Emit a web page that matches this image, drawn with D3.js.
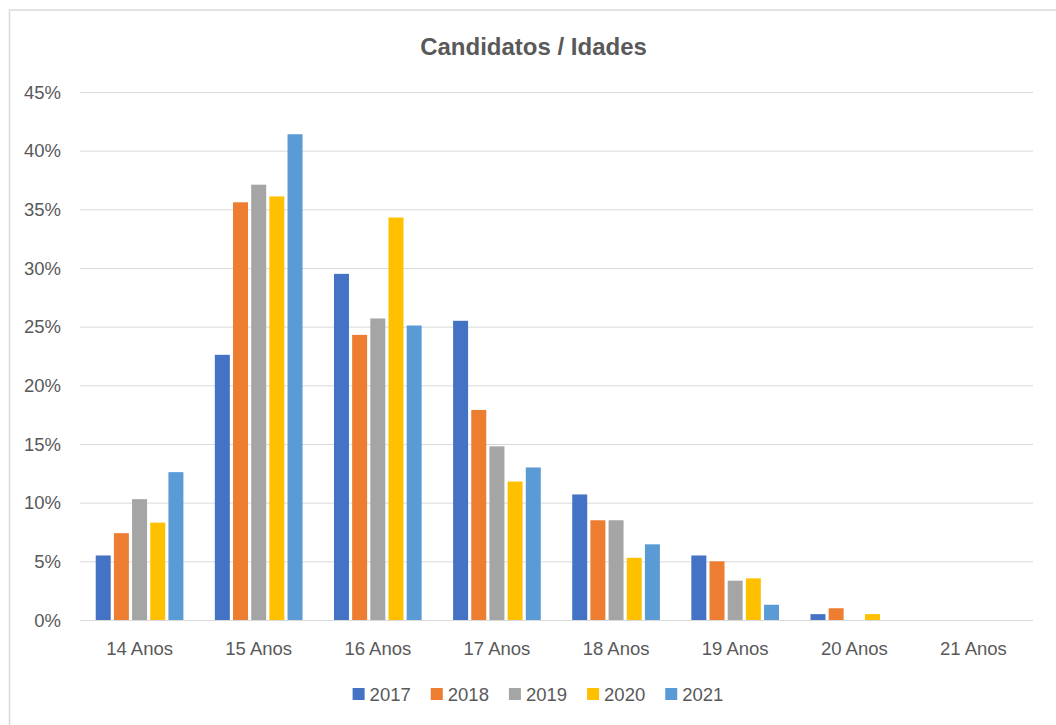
<!DOCTYPE html>
<head>
<meta charset="utf-8">
<style>
body { margin: 0; background: #fff; }
text { font-family: "Liberation Sans", Arial, sans-serif; fill: #595959; }
</style>
</head>
<body>

<!-- load the d3.js library -->
<script src="https://d3js.org/d3.v7.min.js"></script>
<script>

// the data (percent)
var categories = ["14 Anos", "15 Anos", "16 Anos", "17 Anos", "18 Anos", "19 Anos", "20 Anos", "21 Anos"];
var years = ["2017", "2018", "2019", "2020", "2021"];
var v2017 = [5.5, 22.6, 29.5, 25.5, 10.7, 5.5, 0.5, 0];
var v2018 = [7.4, 35.6, 24.3, 17.9, 8.5, 5.0, 1.0, 0];
var v2019 = [10.3, 37.1, 25.7, 14.8, 8.5, 3.35, 0, 0];
var v2020 = [8.3, 36.1, 34.3, 11.8, 5.3, 3.55, 0.5, 0];
var v2021 = [12.6, 41.4, 25.1, 13.0, 6.45, 1.3, 0, 0];
var yTicks = [0, 5, 10, 15, 20, 25, 30, 35, 40, 45];
var title = "Candidatos / Idades";

var series = [v2017, v2018, v2019, v2020, v2021];
var colors = ["#4472C4", "#ED7D31", "#A5A5A5", "#FFC000", "#5B9BD5"];

// plot area
var width = 1056, height = 725;
var plot = {left: 80, right: 1033, top: 92, bottom: 620};

var svg = d3.select("body").append("svg")
    .attr("width", width)
    .attr("height", height);

// chart border
svg.append("rect")
    .attr("x", 9.5).attr("y", 10)
    .attr("width", 1080).attr("height", 760)
    .style("fill", "#fff")
    .style("stroke", "#D9D9D9")
    .style("stroke-width", 1.5);

// scales
var x0 = d3.scaleBand().domain(categories)
    .range([plot.left, plot.right])
    .paddingInner(0.264).paddingOuter(0.132);
var x1 = d3.scaleBand().domain(years)
    .range([0, x0.bandwidth()])
    .paddingInner(0.175);
var y = d3.scaleLinear().domain([0, 45]).range([plot.bottom, plot.top]);

// gridlines
svg.append("g").selectAll("line")
    .data(yTicks).enter().append("line")
    .attr("x1", plot.left).attr("x2", plot.right)
    .attr("y1", function(d) { return y(d) + 0.5; })
    .attr("y2", function(d) { return y(d) + 0.5; })
    .style("stroke", "#D9D9D9")
    .style("stroke-width", 1);

// y labels
svg.append("g").selectAll("text")
    .data(yTicks).enter().append("text")
    .attr("x", 61)
    .attr("y", function(d) { return y(d); })
    .attr("dy", "0.36em")
    .attr("text-anchor", "end")
    .style("font-size", "18.5px")
    .text(function(d) { return d + "%"; });

// bars
var groups = svg.append("g").selectAll("g")
    .data(years).enter().append("g")
    .style("fill", function(d, i) { return colors[i]; });

groups.selectAll("rect")
    .data(function(d, i) {
        return series[i].map(function(v, j) { return {year: d, cat: categories[j], value: v}; });
    })
    .enter().append("rect")
    .attr("x", function(d) { return x0(d.cat) + x1(d.year); })
    .attr("y", function(d) { return y(d.value); })
    .attr("width", x1.bandwidth())
    .attr("height", function(d) { return y(0) - y(d.value); });

// x labels
svg.append("g").selectAll("text")
    .data(categories).enter().append("text")
    .attr("x", function(d) { return x0(d) + x0.bandwidth() / 2; })
    .attr("y", 655)
    .attr("text-anchor", "middle")
    .style("font-size", "18.5px")
    .text(function(d) { return d; });

// title
svg.append("text")
    .attr("x", 533.5).attr("y", 55)
    .attr("text-anchor", "middle")
    .style("font-size", "24px")
    .style("font-weight", "bold")
    .text(title);

// legend, centred under the chart
var legend = svg.append("g");
var items = legend.selectAll("g").data(years).enter().append("g");
items.append("rect")
    .attr("width", 12).attr("height", 12)
    .attr("y", 688)
    .style("fill", function(d, i) { return colors[i]; });
items.append("text")
    .attr("x", 17).attr("y", 701)
    .style("font-size", "18.5px")
    .text(function(d) { return d; });

var pos = 0;
items.each(function() {
    d3.select(this).attr("data-x", pos);
    pos += 17 + this.querySelector("text").getComputedTextLength() + 20;
});
var total = pos - 20;
var start = 538 - total / 2;
items.attr("transform", function() {
    return "translate(" + (start + +d3.select(this).attr("data-x")) + ",0)";
});

</script>
</body>
